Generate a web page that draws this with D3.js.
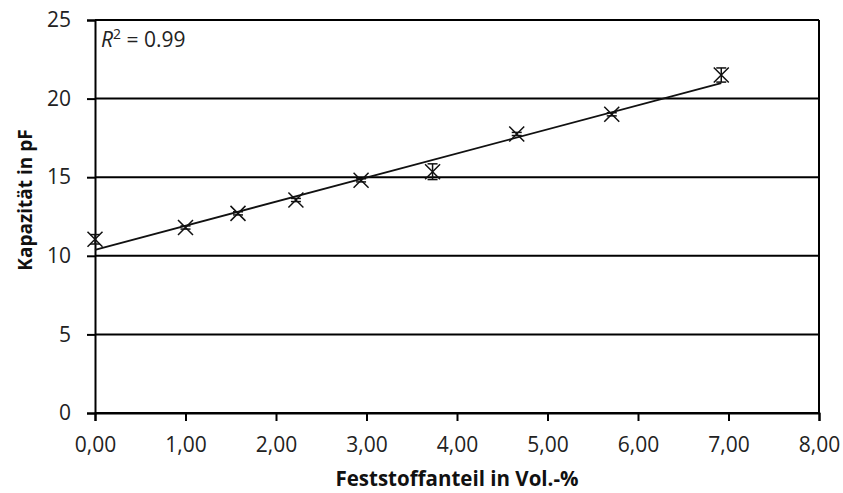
<!DOCTYPE html>
<html>
<head>
<meta charset="utf-8">
<script src="https://cdn.jsdelivr.net/npm/d3@7"></script>
<style>
  html, body { margin: 0; padding: 0; background: #fff; }
  svg { display: block; font-family: "Open Sans", "Noto Sans", sans-serif; }
</style>
</head>
<body>
<svg id="chart" width="843" height="493"></svg>
<script>
// Measurements: solids fraction (vol.-%) vs. capacitance (pF)
const solidsFraction = [0.00, 1.00, 1.58, 2.22, 2.94, 3.73, 4.66, 5.71, 6.92];
const capacitance    = [11.05, 11.8, 12.7, 13.55, 14.8, 15.35, 17.75, 19.0, 21.5];
const capacitanceErr = [0.3, 0.1, 0.1, 0.1, 0.1, 0.5, 0.1, 0.1, 0.45];
const xTicks = [0, 1, 2, 3, 4, 5, 6, 7, 8];
const yTicks = [0, 5, 10, 15, 20, 25];
const rSquaredLabel = "0.99";

const svg = d3.select("#chart");
const margin = { left: 95, right: 24, top: 20, bottom: 80 };
const W = 843, H = 493;

const x = d3.scaleLinear().domain([0, 8]).range([margin.left, W - margin.right]);
const y = d3.scaleLinear().domain([0, 25]).range([H - margin.bottom, margin.top]);

// Horizontal gridlines
svg.append("g")
  .selectAll("line")
  .data(yTicks)
  .join("line")
  .attr("x1", x(0)).attr("x2", x(8))
  .attr("y1", d => y(d)).attr("y2", d => y(d))
  .attr("stroke", "#000").attr("stroke-width", 2);

// Right border of the plot area
svg.append("line")
  .attr("x1", x(8)).attr("x2", x(8))
  .attr("y1", y(0)).attr("y2", y(25))
  .attr("stroke", "#000").attr("stroke-width", 2);

const fmtComma = d => d3.format(".2f")(d).replace(".", ",");

// X axis
const xAxis = svg.append("g")
  .attr("transform", `translate(0,${y(0)})`)
  .call(d3.axisBottom(x).tickValues(xTicks).tickFormat(fmtComma).tickSize(8).tickPadding(16));
// Y axis
const yAxis = svg.append("g")
  .attr("transform", `translate(${x(0)},0)`)
  .call(d3.axisLeft(y).tickValues(yTicks).tickSize(8).tickPadding(16));

[xAxis, yAxis].forEach(g => {
  g.select(".domain").attr("stroke", "#000").attr("stroke-width", 2);
  g.selectAll(".tick line").attr("stroke", "#000").attr("stroke-width", 2);
  g.selectAll(".tick text")
    .attr("fill", "#222")
    .style("font-family", '"Open Sans", sans-serif')
    .style("font-size", "21px");
});

// Linear regression trend line
const n = solidsFraction.length;
const mx = d3.mean(solidsFraction), my = d3.mean(capacitance);
let sxy = 0, sxx = 0;
for (let i = 0; i < n; i++) {
  sxy += (solidsFraction[i] - mx) * (capacitance[i] - my);
  sxx += (solidsFraction[i] - mx) ** 2;
}
const slope = sxy / sxx, intercept = my - slope * mx;
const xEnds = d3.extent(solidsFraction);
svg.append("line")
  .attr("x1", x(xEnds[0])).attr("y1", y(intercept + slope * xEnds[0]))
  .attr("x2", x(xEnds[1])).attr("y2", y(intercept + slope * xEnds[1]))
  .attr("stroke", "#111").attr("stroke-width", 1.8);

// Error bars
const pts = solidsFraction.map((v, i) => ({ x: v, y: capacitance[i], e: capacitanceErr[i] }));
const eb = svg.append("g").attr("stroke", "#111").attr("stroke-width", 1.5);
pts.forEach(p => {
  eb.append("line").attr("x1", x(p.x)).attr("x2", x(p.x))
    .attr("y1", y(p.y - p.e)).attr("y2", y(p.y + p.e));
  [p.y - p.e, p.y + p.e].forEach(v => {
    eb.append("line").attr("x1", x(p.x) - 5).attr("x2", x(p.x) + 5)
      .attr("y1", y(v)).attr("y2", y(v));
  });
});

// X markers
const r = 7.5;
svg.append("g")
  .selectAll("path")
  .data(pts)
  .join("path")
  .attr("d", p => {
    const cx = x(p.x), cy = y(p.y);
    return `M${cx - r},${cy - r}L${cx + r},${cy + r}M${cx - r},${cy + r}L${cx + r},${cy - r}`;
  })
  .attr("stroke", "#111").attr("stroke-width", 1.5).attr("fill", "none");

// Coefficient of determination
const rt = svg.append("text")
  .attr("x", 101).attr("y", 47)
  .attr("fill", "#222")
  .style("font-size", "21px");
rt.append("tspan").attr("font-style", "italic").text("R");
rt.append("tspan").attr("dy", -8).style("font-size", "14px").text("2");
rt.append("tspan").attr("dy", 8).text(" = " + rSquaredLabel);

// Axis titles
svg.append("text")
  .attr("x", (x(0) + x(8)) / 2).attr("y", 486)
  .attr("text-anchor", "middle")
  .attr("font-weight", "bold")
  .attr("fill", "#111")
  .style("font-size", "20.5px")
  .text("Feststoffanteil in Vol.-%");

svg.append("text")
  .attr("transform", "translate(32,200) rotate(-90)")
  .attr("text-anchor", "middle")
  .attr("font-weight", "bold")
  .attr("fill", "#111")
  .style("font-size", "19px")
  .text("Kapazität in pF");
</script>
</body>
</html>
